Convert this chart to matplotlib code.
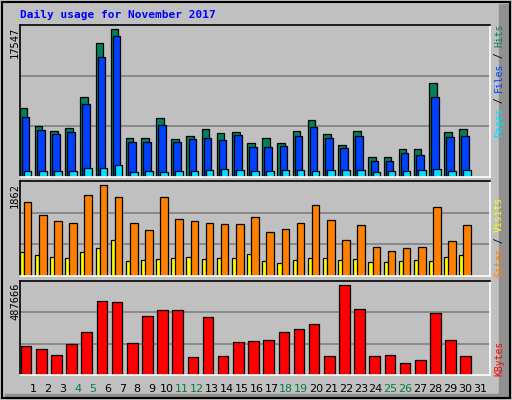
import matplotlib
matplotlib.use("Agg")
import matplotlib.pyplot as plt
import numpy as np

days = list(range(1, 32))
weekend = [4, 5, 11, 12, 18, 19, 25, 26]
hits = [7979,5887,5306,5655,9257,15415,17041,4493,4493,6817,4377,4725,5539,5074,5190,3912,4493,3912,5306,6584,4958,3679,5306,2285,2285,3215,3215,10884,5190,5539]
files = [6933,5422,4958,5190,8443,13904,16228,4028,4028,6003,4028,4377,4493,4260,4841,3447,3447,3563,4725,5771,4493,3331,4725,1820,1820,2750,2517,9257,4609,4725]
pages = [658,658,658,658,1007,1007,1356,542,658,542,658,658,775,891,775,658,658,775,775,658,775,775,775,542,658,658,775,891,658,775]
visits = [1460,1187,1071,1032,1596,1791,1557,1032,895,1557,1109,1071,1032,1012,1012,1148,856,915,1032,1382,1090,701,993,564,487,545,564,1343,681,993]
sites = [467,409,370,350,467,545,701,292,311,331,350,370,331,350,350,428,292,253,311,350,350,311,331,272,272,292,311,292,370,409]
kbytes = [155382,139308,107160,166098,230394,401850,396492,171456,316122,348270,348270,96444,310764,101802,176814,182172,187530,230394,246468,273258,101802,487666,353628,101802,107160,64296,80370,332196,187530,101802]
max_labels = ["17547", "1862", "487666"]

BG = "#c0c0c0"
W, H = 512, 400
fig = plt.figure(figsize=(5.12, 4.0), dpi=100, facecolor=BG)
mono = "DejaVu Sans Mono"

def px_ax(x0, y0, x1, y1):
    return fig.add_axes([x0 / W, 1 - y1 / H, (x1 - x0) / W, (y1 - y0) / H])

x = np.arange(1, 31)
panels = [(25, 177, 17547), (181, 276, 1862), (281, 375, 507224)]
axes = []
for (y0, y1, top) in panels:
    ax = px_ax(20, y0, 490, y1)
    ax.set_facecolor(BG)
    ax.set_xlim(0.5, 31.5)
    ax.set_ylim(0, top)
    ax.set_xticks([]); ax.set_yticks([])
    for s in ["left", "top"]:
        ax.spines[s].set_color("black")
    for s in ["right", "bottom"]:
        ax.spines[s].set_color("white")
    for sp in ax.spines.values():
        sp.set_linewidth(1.2)
    for f in (1/3, 2/3):
        ax.axhline(top * f, color="#808080", lw=1.2, zorder=0)
    axes.append(ax)

kw = dict(edgecolor="black", linewidth=0.9, align="edge", zorder=2)
a0, a1, a2 = axes
a0.bar(x - 0.52, hits, 0.5, color="#00805c", **kw)
a0.bar(x - 0.38, files, 0.5, color="#0040ff", **kw)
a0.bar(x - 0.25, pages, 0.5, color="#00e0ff", **kw)
a1.bar(x - 0.52, sites, 0.3, color="#ffff00", **kw)
a1.bar(x - 0.25, visits, 0.5, color="#ff8000", **kw)
a2.bar(x - 0.45, kbytes, 0.7, color="#ff0000", **kw)

# outer frame
fig.patches.append(plt.Rectangle((0.004, 0.004), 0.992, 0.992, transform=fig.transFigure,
                                 fill=False, edgecolor="black", lw=1.5))
fig.patches.append(plt.Rectangle((0.975, 0.01), 0.02, 0.98, transform=fig.transFigure,
                                 color="#909090", zorder=-1))
fig.patches.append(plt.Rectangle((0.01, 0.004), 0.985, 0.012, transform=fig.transFigure,
                                 color="#909090", zorder=-1))

fig.text(20 / W, 1 - 15 / H, "Daily usage for November 2017", color="#0000ff",
         fontsize=8, fontweight="bold", family=mono, va="center", ha="left")

for lab, (y0, y1, top) in zip(max_labels, panels):
    fig.text(15 / W, 1 - (y0 + 2) / H, lab, rotation=90, fontsize=7.5, family=mono,
             va="top", ha="center")

def right_label(ybottom, parts):
    pos = ybottom
    cw = 5.6
    for txt, col in parts:
        fig.text(499 / W, 1 - pos / H, txt, rotation=90, fontsize=7, family=mono,
                 color=col, va="bottom", ha="center")
        pos -= cw * len(txt)

right_label(137, [("Pages", "#00e0ff"), (" / ", "black"), ("Files", "#0040ff"),
                  (" / ", "black"), ("Hits", "#00805c")])
right_label(277, [("Sites", "#ff8000"), (" / ", "black"), ("Visits", "#ffff00")])
right_label(376, [("KBytes", "#ff0000")])

for d in days:
    xp = 20 + (d - 0.5 + 0.5) * (470 / 31.0) - 470 / 31.0 / 2 + 470 / 31.0 / 2 * 0
    xp = 33 + (d - 1) * 14.9
    fig.text(xp / W, 1 - 389 / H, str(d), fontsize=8, family="DejaVu Sans",
             color="#008040" if d in weekend else "black", ha="center", va="center")

fig.savefig("out.png", dpi=100, facecolor=BG)
